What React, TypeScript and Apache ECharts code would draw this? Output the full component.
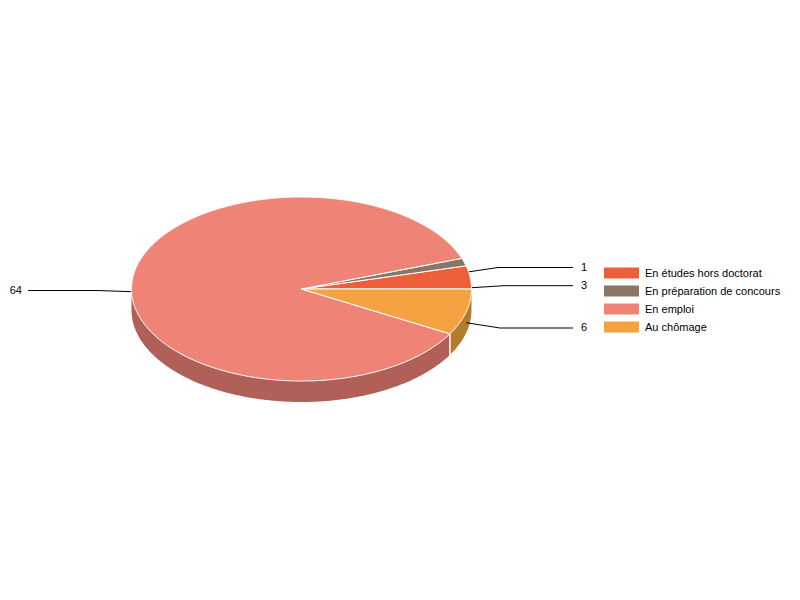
import React, { useEffect, useRef } from "react";
import * as echarts from "echarts";

const categories = ["En études hors doctorat", "En préparation de concours", "En emploi", "Au chômage"];
const values = [3, 1, 64, 6];
const legendOrder = [0, 1, 2, 3];
const topColors = ["#EC5F38", "#8A7668", "#EF8375", "#F5A241"];
const wallColors = ["#A54227", "#604F45", "#B06056", "#B57B2D"];
// Layout of the labels
const labelY = [285.7, 267.5, 290.5, 328];

const CX = 301.5;
const CY = 289;
const RX = 170;
const RY = 92;
const DEPTH = 21;
const FONT = "11px 'Liberation Sans', Arial, sans-serif";
const total = values.reduce((a, b) => a + b, 0);

// Angles run counter-clockwise on the screen from the east point.
function sliceAngles(i: number): [number, number] {
  let before = 0;
  for (let k = 0; k < i; k++) before += values[k];
  return [(before / total) * 360, ((before + values[i]) / total) * 360];
}
function pt(deg: number, dy = 0, k = 1): number[] {
  const t = (deg * Math.PI) / 180;
  return [CX + RX * k * Math.cos(t), CY - RY * k * Math.sin(t) + dy];
}
function arc(a0: number, a1: number, dy = 0): number[][] {
  const out: number[][] = [];
  const n = Math.max(2, Math.ceil(Math.abs(a1 - a0) * 2));
  for (let i = 0; i <= n; i++) out.push(pt(a0 + ((a1 - a0) * i) / n, dy));
  return out;
}

function renderSlice(i: number) {
  return (_params: any, api: any) => {
    const [a0, a1] = sliceAngles(i);
    const children: any[] = [];
    // Visible wall: the front half lies between 180 and 360 degrees.
    const w0 = Math.max(a0, 180);
    const w1 = Math.min(a1, 360);
    if (w1 > w0) {
      const top = arc(w0, w1);
      const bottom = arc(w1, w0, DEPTH);
      children.push({
        type: "polygon",
        z2: 10,
        shape: { points: top.concat(bottom) },
        style: { fill: wallColors[i], stroke: "none" },
      });
      if (w0 === a0 || w1 === a1) {
        const edge = w0 === a0 ? w0 : w1;
        if (edge !== 180 && edge !== 360) {
          const p = pt(edge);
          children.push({
            type: "line",
            z2: 20,
            shape: { x1: p[0], y1: p[1], x2: p[0], y2: p[1] + DEPTH },
            style: { stroke: "#fff", lineWidth: 1 },
          });
        }
      }
    }
    // Leader line and value label
    const mid = (a0 + a1) / 2;
    const anchor = pt(mid, DEPTH / 2);
    const right = anchor[0] >= CX;
    const elbowX = anchor[0] + (right ? 34 : -35);
    const endX = right ? 573 : 28;
    const y = labelY[i];
    children.push({
      type: "polyline",
      z2: 30,
      shape: { points: [anchor, [elbowX, y], [endX, y]] },
      style: { stroke: "#000", lineWidth: 1, fill: "none" },
    });
    children.push({
      type: "polygon",
      z2: 40,
      shape: { points: [[CX, CY] as number[]].concat(arc(a0, a1)) },
      style: { fill: topColors[i], stroke: "#fff", lineWidth: 1, lineJoin: "round" },
    });
    children.push({
      type: "text",
      z2: 50,
      style: {
        text: String(api.value(0)),
        x: right ? 581 : 22,
        y: Math.floor(y - 0.5),
        fill: "#000",
        font: FONT,
        textAlign: right ? "left" : "right",
        textVerticalAlign: "middle",
      },
    });
    return { type: "group", children };
  };
}

export default function App() {
  const ref = useRef<HTMLDivElement>(null);
  useEffect(() => {
    const chart = echarts.init(ref.current!, null, { renderer: "svg" });
    chart.setOption({
      animation: false,
      backgroundColor: "#fff",
      legend: {
        orient: "vertical",
        left: 604,
        top: 267.5,
        itemWidth: 35,
        itemHeight: 11,
        itemGap: 7,
        padding: 0,
        selectedMode: false,
        icon: "rect",
        data: legendOrder.map((i) => categories[i]),
        textStyle: {
          color: "#000",
          fontSize: 11,
          fontFamily: "'Liberation Sans', Arial, sans-serif",
          padding: [0, 0, 0, 1],
        },
      },
      series: categories.map((name, i) => ({
        type: "custom",
        name,
        coordinateSystem: "none",
        silent: true,
        itemStyle: { color: topColors[i] },
        data: [[values[i]]],
        renderItem: renderSlice(i),
      })),
    });
    return () => chart.dispose();
  }, []);
  return (
    <div
      ref={ref}
      style={{ position: "fixed", left: 0, top: 0, width: 800, height: 600 }}
    />
  );
}
